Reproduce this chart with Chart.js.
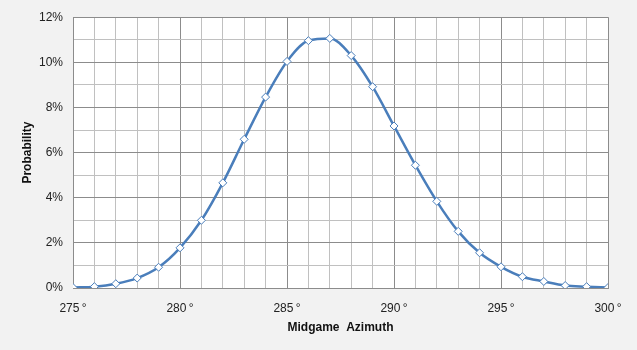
<!DOCTYPE html>
<html>
<head>
    <meta charset="utf-8">
    <title>Midgame Azimuth</title>
    <script src="https://cdn.jsdelivr.net/npm/chart.js@4.4.0/dist/chart.umd.min.js"></script>
    <style>
        html, body { margin: 0; padding: 0; background: #f2f2f2; }
        #wrap { width: 637px; height: 350px; }
    </style>
</head>
<body>
    <div id="wrap"><canvas id="myChart" width="637" height="350"></canvas></div>
    <script>
        // azimuth in degrees, probability in percent
        const azimuth = [275, 276, 277, 278, 279, 280, 281, 282, 283, 284, 285, 286, 287,
            288, 289, 290, 291, 292, 293, 294, 295, 296, 297, 298, 299, 300];
        const probability = [0.02, 0.06, 0.19, 0.44, 0.92, 1.78, 3.0, 4.66, 6.59, 8.46, 10.04, 10.96, 11.06,
            10.3, 8.92, 7.18, 5.44, 3.84, 2.51, 1.56, 0.94, 0.5, 0.29, 0.11, 0.06, 0.02];

        const FONT = 'Liberation Sans';

        // white plot area
        const plotBg = {
            id: 'plotBg',
            beforeDraw(chart) {
                const a = chart.chartArea;
                const c = chart.ctx;
                c.save();
                c.fillStyle = '#ffffff';
                c.fillRect(a.left, a.top, a.right - a.left, a.bottom - a.top);
                c.restore();
            }
        };

        const points = azimuth.map((a, i) => ({ x: a, y: probability[i] }));

        const ctx = document.getElementById('myChart');
        const myChart = new Chart(ctx, {
            type: 'line',
            data: {
                datasets: [{
                    data: points,
                    borderColor: '#4a7ebb',
                    borderWidth: 2.5,
                    tension: 0.4,
                    cubicInterpolationMode: 'monotone',
                    pointStyle: 'rectRot',
                    pointRadius: 4,
                    pointBorderWidth: 1,
                    pointBackgroundColor: '#ffffff',
                    pointBorderColor: '#4a7ebb'
                }]
            },
            options: {
                responsive: false,
                animation: false,
                layout: { padding: { top: 15, right: 29, left: 20, bottom: 11 } },
                plugins: {
                    legend: { display: false },
                    tooltip: { enabled: false }
                },
                scales: {
                    x: {
                        type: 'linear',
                        min: 275,
                        max: 300,
                        afterFit(s) { s.height = 51; },
                        ticks: {
                            stepSize: 1,
                            autoSkip: false,
                            maxRotation: 0,
                            padding: 13,
                            color: '#222',
                            font: { family: FONT, size: 12 },
                            callback: v => v % 5 === 0 ? v + '\u2009°' : ''
                        },
                        grid: {
                            drawTicks: false,
                            color: c => c.tick && c.tick.value % 5 === 0 ? '#8c8c8c' : '#c0c0c0'
                        },
                        border: { color: '#8c8c8c' },
                        title: {
                            display: true,
                            text: 'Midgame  Azimuth',
                            color: '#111',
                            font: { family: FONT, size: 12, weight: 'bold' },
                            padding: { top: 6 }
                        }
                    },
                    y: {
                        min: 0,
                        max: 12,
                        afterFit(s) { s.width = 53; },
                        ticks: {
                            stepSize: 1,
                            autoSkip: false,
                            padding: 10,
                            color: '#222',
                            font: { family: FONT, size: 12 },
                            callback: v => v % 2 === 0 ? v + '%' : ''
                        },
                        grid: {
                            drawTicks: false,
                            color: c => c.tick && c.tick.value % 2 === 0 ? '#8c8c8c' : '#c0c0c0'
                        },
                        border: { color: '#8c8c8c' },
                        title: {
                            display: true,
                            text: 'Probability',
                            color: '#111',
                            font: { family: FONT, size: 12, weight: 'bold' },
                            padding: { top: 0, bottom: 0 }
                        }
                    }
                }
            },
            plugins: [plotBg]
        });
    </script>
</body>
</html>
